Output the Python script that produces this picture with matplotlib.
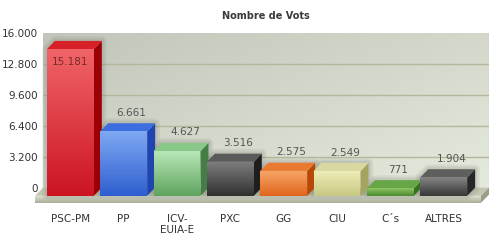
#!/usr/bin/env python3
"""
Recreate the 3D-style bar chart "Nombre de Vots".
"""
import numpy as np
import matplotlib
matplotlib.use('Agg')
import matplotlib.pyplot as plt
from matplotlib.patches import Polygon
from matplotlib.colors import LinearSegmentedColormap

# data
parties = ['PSC-PM', 'PP', 'ICV-\nEUIA-E', 'PXC', 'GG', 'CIU', 'C\u00b4s', 'ALTRES']
votes = [15181, 6661, 4627, 3516, 2575, 2549, 771, 1904]
yticks = [0, 3200, 6400, 9600, 12800, 16000]

# colours: front face top, front face bottom, side, top face
front_top = ['#f06468', '#7ea8f2', '#b8e6b8', '#7c7c7c', '#f6a466', '#ececb6', '#90c464', '#848484']
front_bot = ['#cc1422', '#2f5fd0', '#5ea45e', '#303030', '#e0661c', '#c8c884', '#4a8a2e', '#383838']
side_col = ['#9c0006', '#2044b0', '#447e44', '#1e1e1e', '#b84806', '#a4a45e', '#36701e', '#262626']
top_col = ['#d82028', '#3c6ee0', '#88c888', '#5a5a5a', '#ea7a30', '#d8d8a0', '#66a646', '#5e5e5e']

W = 0.88            # bar width
DX, DY = 0.15, 850  # 3D depth in data units
WALL_L, WALL_R = -0.66, 7.70


def grad_fill(ax, fig, verts, c_top, c_bot, z):
    """Fill a polygon with a vertical gradient."""
    poly = Polygon(verts, closed=True, facecolor='none', edgecolor='none',
                   clip_on=False)
    ax.add_patch(poly)
    xs = [p[0] for p in verts]
    ys = [p[1] for p in verts]
    cmap = LinearSegmentedColormap.from_list('g', [c_bot, c_top])
    grad = np.linspace(0, 1, 64)[:, None]
    im = ax.imshow(grad, cmap=cmap, origin='lower', aspect='auto',
                   interpolation='bilinear',
                   extent=(min(xs), max(xs), min(ys), max(ys)), zorder=z)
    im.set_clip_path(poly)
    im.set_clip_box(fig.bbox)


fig = plt.figure(figsize=(5, 2.4), dpi=100)
ax = fig.add_axes([33 / 500, 1 - 205 / 240, 456 / 500, 172 / 240])
ax.set_facecolor('none')
for s in ax.spines.values():
    s.set_visible(False)

# back wall with diagonal gradient
xx, yy = np.meshgrid(np.linspace(0, 1, 80), np.linspace(0, 1, 80))
wall = (xx + (1 - yy)) / 2
wall_cmap = LinearSegmentedColormap.from_list('w', ['#c2c6ba', '#e4eadc'])
ax.imshow(wall, cmap=wall_cmap, origin='lower', aspect='auto',
          interpolation='bilinear', extent=(WALL_L, WALL_R, 0, yticks[-1]),
          zorder=0)
ax.plot([WALL_R + 0.02, WALL_R + 0.02], [0, yticks[-1]], color='#a8aa9e',
        lw=1.5, zorder=0.4)
ax.hlines(yticks[1:-1], WALL_L, WALL_R, color='#b4b79a', lw=1, zorder=0.5)

# floor slab
slab_h = 720
ax.add_patch(Polygon([(WALL_L, 0), (WALL_R, 0), (WALL_R - DX, -DY),
                      (WALL_L - DX, -DY)], facecolor='#c4c8b2',
                     edgecolor='none', zorder=1, clip_on=False))
grad_fill(ax, fig, [(WALL_L - DX, -DY - slab_h), (WALL_R - DX, -DY - slab_h),
                    (WALL_R - DX, -DY), (WALL_L - DX, -DY)],
          '#dce2d0', '#a9ad96', 1)
ax.add_patch(Polygon([(WALL_R - DX, -DY - slab_h), (WALL_R, -slab_h),
                      (WALL_R, 0), (WALL_R - DX, -DY)], facecolor='#9a9e88',
                     edgecolor='none', zorder=1, clip_on=False))

# bars
for i, v in enumerate(votes):
    l, r = i - W / 2, i + W / 2
    z = 2 + i * 0.01
    outline = [(l - DX, -DY), (r - DX, -DY), (r, 0), (r, v), (l, v),
               (l - DX, v - DY)]
    # soft halo around each bar
    for lw in (7, 4.5, 2.5):
        ax.add_patch(Polygon(outline, facecolor='none', edgecolor='#707068',
                             lw=lw, alpha=0.09, joinstyle='round',
                             zorder=1.5, clip_on=False))
    ax.add_patch(Polygon([(r - DX, -DY), (r, 0), (r, v), (r - DX, v - DY)],
                         facecolor=side_col[i], edgecolor='none', zorder=z,
                         clip_on=False))
    ax.add_patch(Polygon([(l - DX, v - DY), (r - DX, v - DY), (r, v), (l, v)],
                         facecolor=top_col[i], edgecolor='none', zorder=z,
                         clip_on=False))
    grad_fill(ax, fig, [(l - DX, -DY), (r - DX, -DY), (r - DX, v - DY),
                        (l - DX, v - DY)], front_top[i], front_bot[i], z + 0.001)

    txt = f'{v:,}'.replace(',', '.')
    if v > 14000:
        ax.annotate(txt, (i - DX, v - DY), xytext=(0, -9.5), textcoords='offset points',
                    ha='center', va='center', fontsize=7.5, color='#7a2a2a',
                    zorder=5)
    else:
        ax.annotate(txt, (i, v), xytext=(0, 7.5), textcoords='offset points',
                    ha='center', va='center', fontsize=7.5, color='#555555',
                    zorder=5)

ax.set_xlim(-0.85, 7.70)
ax.set_ylim(-1800, 16000)

ax.set_xticks([i - DX for i in range(len(parties))])
ax.set_xticklabels(parties, fontsize=7.5, color='#333333', linespacing=1.1)
ax.set_yticks(yticks)
ax.set_yticklabels([f'{t:,}'.replace(',', '.') for t in yticks],
                   fontsize=7.5, color='#333333')
ax.tick_params(axis='x', length=0, pad=6.5)
ax.tick_params(axis='y', length=0, pad=-3.8)

fig.text(266 / 500, 1 - 16 / 240, 'Nombre de Vots', ha='center', va='center',
         fontsize=7, fontweight='bold', color='#3a3a3a')

fig.savefig('out.png', dpi=100)
